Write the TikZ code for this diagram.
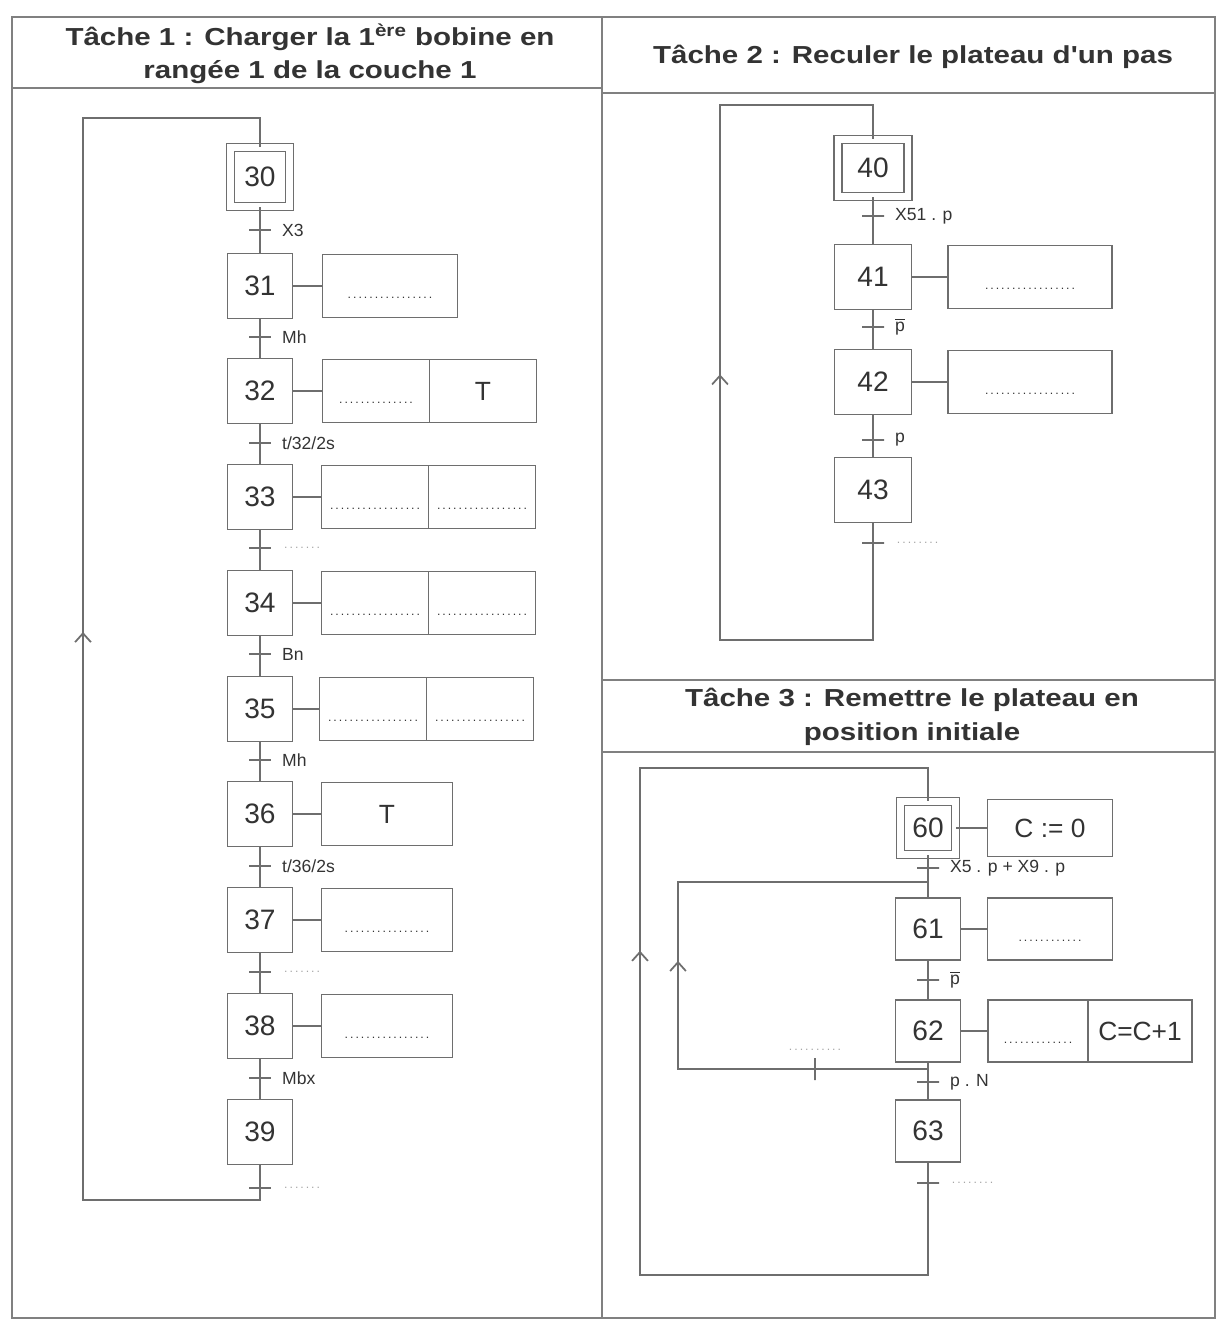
\documentclass[tikz,border=0pt]{standalone}
\usepackage{fontspec}
\setmainfont{Liberation Sans}
\newfontfamily\titrefont{Liberation Sans}[FakeStretch=1.2]
\usetikzlibrary{arrows.meta,decorations.markings}

\definecolor{trait}{HTML}{6E6E6E}
\definecolor{encre}{HTML}{333333}
\newcommand{\pointilles}[1]{\makebox[#1]{\dotfill}}
\newcommand{\vide}[1]{\raisebox{-7pt}[0pt][0pt]{\scriptsize\pointilles{#1}}}

\begin{document}
\begin{tikzpicture}[x=0.02cm, y=-0.02cm, line width=1pt, color=trait,
  every node/.style={text=encre},
  titre/.style={align=center, font=\titrefont\bfseries\fontsize{14}{19}\selectfont},
  etape/.style={draw, rectangle, inner sep=0pt, minimum width=1.3cm,
                minimum height=1.3cm, font=\fontsize{16}{18}\selectfont},
  init/.style={etape, double, double distance=3.5pt},
  action/.style={draw, rectangle, inner sep=0pt, minimum height=1.26cm,
                 font=\fontsize{15}{17}\selectfont},
  tr/.style={draw, rectangle, inner sep=0pt, minimum width=0.44cm, minimum height=0pt},
  trv/.style={draw, rectangle, inner sep=0pt, minimum width=0pt, minimum height=0.44cm},
  lbl/.style={font=\fontsize{10}{12}\selectfont, xshift=2pt},
  vid/.style={text=gray!70, font=\scriptsize},
  fleche/.style={postaction={decorate}, decoration={markings,
                 mark=at position #1 with {\arrow{Straight Barb[length=5pt,width=9pt]}}}}]

  \useasboundingbox (0,0) rectangle (1217,1320);

  % cadre
  \draw[gray] (12,17) rectangle (1215,1318);
  \draw[gray] (602,17) -- (602,1318);
  \draw[gray] (12,88) -- (602,88);
  \draw[gray] (602,93) -- (1215,93);
  \draw[gray] (602,680) -- (1215,680);
  \draw[gray] (602,752) -- (1215,752);

  \node[titre] (h1) at (310,54)  {Tâche 1 : Charger la 1\textsuperscript{ère} bobine en\\rangée 1 de la couche 1};
  \node[titre] (h2) at (913,57)  {Tâche 2 : Reculer le plateau d'un pas};
  \node[titre] (h3) at (912,717) {Tâche 3 : Remettre le plateau en\\position initiale};

  % tache 1
  \node[init, minimum width=1.18cm, minimum height=1.18cm] (e30) at (260,177) {30};
  \node[etape] (e31) at (260,286)  {31};
  \node[etape] (e32) at (260,391)  {32};
  \node[etape] (e33) at (260,497)  {33};
  \node[etape] (e34) at (260,603)  {34};
  \node[etape] (e35) at (260,709)  {35};
  \node[etape] (e36) at (260,814)  {36};
  \node[etape] (e37) at (260,920)  {37};
  \node[etape] (e38) at (260,1026) {38};
  \node[etape] (e39) at (260,1132) {39};

  \node[tr, label={[lbl]right:X3}]      (t30) at (260,230)  {};
  \node[tr, label={[lbl]right:Mh}]      (t31) at (260,337)  {};
  \node[tr, label={[lbl]right:t/32/2s}] (t32) at (260,443)  {};
  \node[tr, label={[lbl,vid]right:\pointilles{0.8cm}}] (t33) at (260,548) {};
  \node[tr, label={[lbl]right:Bn}]      (t34) at (260,654)  {};
  \node[tr, label={[lbl]right:Mh}]      (t35) at (260,760)  {};
  \node[tr, label={[lbl]right:t/36/2s}] (t36) at (260,866)  {};
  \node[tr, label={[lbl,vid]right:\pointilles{0.8cm}}] (t37) at (260,972) {};
  \node[tr, label={[lbl]right:Mbx}]     (t38) at (260,1078) {};
  \node[tr, label={[lbl,vid]right:\pointilles{0.8cm}}] (t39) at (260,1188) {};

  \node[action, minimum width=2.7cm]  (a31)  at (390,286)  {\vide{1.8cm}};
  \node[action, minimum width=2.14cm] (a32a) at (376,391)  {\vide{1.6cm}};
  \node[action, minimum width=2.14cm] (a32b) at (483,391)  {T};
  \node[action, minimum width=2.14cm] (a33a) at (375,497)  {\vide{1.9cm}};
  \node[action, minimum width=2.14cm] (a33b) at (482,497)  {\vide{1.9cm}};
  \node[action, minimum width=2.14cm] (a34a) at (375,603)  {\vide{1.9cm}};
  \node[action, minimum width=2.14cm] (a34b) at (482,603)  {\vide{1.9cm}};
  \node[action, minimum width=2.14cm] (a35a) at (373,709)  {\vide{1.9cm}};
  \node[action, minimum width=2.14cm] (a35b) at (480,709)  {\vide{1.9cm}};
  \node[action, minimum width=2.62cm] (a36)  at (387,814)  {T};
  \node[action, minimum width=2.62cm] (a37)  at (387,920)  {\vide{1.8cm}};
  \node[action, minimum width=2.62cm] (a38)  at (387,1026) {\vide{1.8cm}};

  \foreach \i in {31,36,37,38} \draw (e\i) -- (a\i);
  \foreach \i in {32,33,34,35} \draw (e\i) -- (a\i a);
  \draw (e30) -- (e31) -- (e32) -- (e33) -- (e34) -- (e35) -- (e36) -- (e37) -- (e38) -- (e39);

  \coordinate (b1) at (260,1200);
  \coordinate (g1) at (83,1200);
  \coordinate (g2) at (83,118);
  \coordinate (k1) at (260,118);
  \draw[fleche=0.52] (e39) -- (b1) -- (g1) -- (g2) -- (k1) -- (e30);

  % tache 2
  \node[init, minimum width=1.4cm, minimum height=1.14cm] (e40) at (873,168) {40};
  \node[etape, minimum width=1.54cm] (e41) at (873,277) {41};
  \node[etape, minimum width=1.54cm] (e42) at (873,382) {42};
  \node[etape, minimum width=1.54cm] (e43) at (873,490) {43};

  \node[tr, label={[lbl]right:X51 . p}] (t40) at (873,216) {};
  \node[tr, label={[lbl]right:\ensuremath{\overline{\mbox{p}}}}] (t41) at (873,327) {};
  \node[tr, label={[lbl]right:p}] (t42) at (873,440) {};
  \node[tr, label={[lbl,vid]right:\pointilles{0.9cm}}] (t43) at (873,543) {};

  \node[action, minimum width=3.28cm] (a41) at (1030,277) {\vide{1.9cm}};
  \node[action, minimum width=3.28cm] (a42) at (1030,382) {\vide{1.9cm}};
  \draw (e41) -- (a41);
  \draw (e42) -- (a42);
  \draw (e40) -- (e41) -- (e42) -- (e43);

  \coordinate (b2) at (873,640);
  \coordinate (g3) at (720,640);
  \coordinate (g4) at (720,105);
  \coordinate (k2) at (873,105);
  \draw[fleche=0.54] (e43) -- (b2) -- (g3) -- (g4) -- (k2) -- (e40);

  % tache 3
  \node[init, minimum width=1.1cm, minimum height=1.06cm] (e60) at (928,828) {60};
  \node[etape, minimum height=1.24cm] (e61) at (928,929)  {61};
  \node[etape, minimum height=1.24cm] (e62) at (928,1031) {62};
  \node[etape, minimum height=1.24cm] (e63) at (928,1131) {63};

  \node[tr, label={[lbl]right:X5 . p + X9 . p}] (t60) at (928,868) {};
  \node[tr, label={[lbl]right:\ensuremath{\overline{\mbox{p}}}}] (t61) at (928,980) {};
  \node[tr, label={[lbl]right:p . N}] (t62) at (928,1082) {};
  \node[tr, label={[lbl,vid]right:\pointilles{0.9cm}}] (t63) at (928,1183) {};
  \node[trv, label={[vid]above:\pointilles{1.1cm}}] (t64) at (815,1069) {};

  \node[action, minimum width=2.5cm, minimum height=1.14cm] (a60) at (1050,828) {C := 0};
  \node[action, minimum width=2.5cm, minimum height=1.24cm] (a61) at (1050,929) {\vide{1.4cm}};
  \node[action, minimum width=2.0cm, minimum height=1.24cm] (a62a) at (1038,1031) {\vide{1.5cm}};
  \node[action, minimum width=2.08cm, minimum height=1.24cm] (a62b) at (1140,1031) {C=C+1};
  \draw (e60) -- (a60);
  \draw (e61) -- (a61);
  \draw (e62) -- (a62a);
  \draw (e60) -- (e61) -- (e62) -- (e63);

  \coordinate (j62) at (928,1069);
  \coordinate (g7) at (678,1069);
  \coordinate (g8) at (678,882);
  \coordinate (k4) at (928,882);
  \draw[fleche=0.52] (j62) -- (t64) -- (g7) -- (g8) -- (k4);

  \coordinate (b3) at (928,1275);
  \coordinate (g5) at (640,1275);
  \coordinate (g6) at (640,768);
  \coordinate (k3) at (928,768);
  \draw[fleche=0.59] (e63) -- (b3) -- (g5) -- (g6) -- (k3) -- (e60);

\end{tikzpicture}
\end{document}
